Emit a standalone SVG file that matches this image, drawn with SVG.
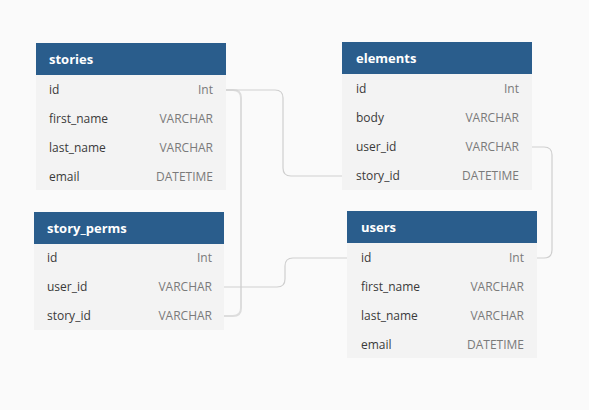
<svg xmlns="http://www.w3.org/2000/svg" width="589" height="410" viewBox="0 0 589 410">
<style>
.bg{fill:#fafafa}
.hd{fill:#2a5d8c}
.bd{fill:#f3f3f3}
.ht{font-family:"Open Sans",sans-serif;font-size:13px;font-weight:bold;fill:#ffffff}
.fn{font-family:"Open Sans",sans-serif;font-size:12px;fill:#3a3a3a}
.ty{font-family:"Open Sans",sans-serif;font-size:12px;fill:#7a7a7a;text-anchor:end}
.ln{fill:none;stroke:#cfcfcf;stroke-width:1.2}
.ln2{fill:none;stroke:#dddddd;stroke-width:2}
</style>
<rect class="bg" x="0" y="0" width="589" height="410"/>
<g id="connectors">
<path class="ln2" d="M226,90 H233 Q241,90 241,98 V308 Q241,316 233,316 H224"/>
<path class="ln" d="M226,90 H275 Q283,90 283,98 V168 Q283,176 291,176 H342"/>
<path class="ln" d="M224,287 H277 Q285,287 285,279 V266 Q285,258 293,258 H347"/>
<path class="ln" d="M532,147 H544 Q552,147 552,155 V250 Q552,258 544,258 H537"/>
</g>
<g id="stories">
<rect class="bd" x="36" y="75" width="190" height="115"/>
<rect class="hd" x="36" y="43" width="190" height="32"/>
<text class="ht" x="49" y="64">stories</text>
<text class="fn" x="49" y="94">id</text><text class="ty" x="213" y="94">Int</text>
<text class="fn" x="49" y="123">first_name</text><text class="ty" x="213" y="123">VARCHAR</text>
<text class="fn" x="49" y="152">last_name</text><text class="ty" x="213" y="152">VARCHAR</text>
<text class="fn" x="49" y="181">email</text><text class="ty" x="213" y="181">DATETIME</text>
</g>
<g id="story_perms">
<rect class="bd" x="34" y="244" width="190" height="86"/>
<rect class="hd" x="34" y="212" width="190" height="32"/>
<text class="ht" x="47" y="233">story_perms</text>
<text class="fn" x="47" y="262">id</text><text class="ty" x="212" y="262">Int</text>
<text class="fn" x="47" y="291">user_id</text><text class="ty" x="212" y="291">VARCHAR</text>
<text class="fn" x="47" y="320">story_id</text><text class="ty" x="212" y="320">VARCHAR</text>
</g>
<g id="elements">
<rect class="bd" x="342" y="74" width="190" height="116"/>
<rect class="hd" x="342" y="42" width="190" height="32"/>
<text class="ht" x="356" y="63">elements</text>
<text class="fn" x="356" y="93">id</text><text class="ty" x="519" y="93">Int</text>
<text class="fn" x="356" y="122">body</text><text class="ty" x="519" y="122">VARCHAR</text>
<text class="fn" x="356" y="151">user_id</text><text class="ty" x="519" y="151">VARCHAR</text>
<text class="fn" x="356" y="180">story_id</text><text class="ty" x="519" y="180">DATETIME</text>
</g>
<g id="users">
<rect class="bd" x="347" y="243" width="190" height="115"/>
<rect class="hd" x="347" y="211" width="190" height="32"/>
<text class="ht" x="361" y="232">users</text>
<text class="fn" x="361" y="262">id</text><text class="ty" x="524" y="262">Int</text>
<text class="fn" x="361" y="291">first_name</text><text class="ty" x="524" y="291">VARCHAR</text>
<text class="fn" x="361" y="320">last_name</text><text class="ty" x="524" y="320">VARCHAR</text>
<text class="fn" x="361" y="349">email</text><text class="ty" x="524" y="349">DATETIME</text>
</g>
</svg>
